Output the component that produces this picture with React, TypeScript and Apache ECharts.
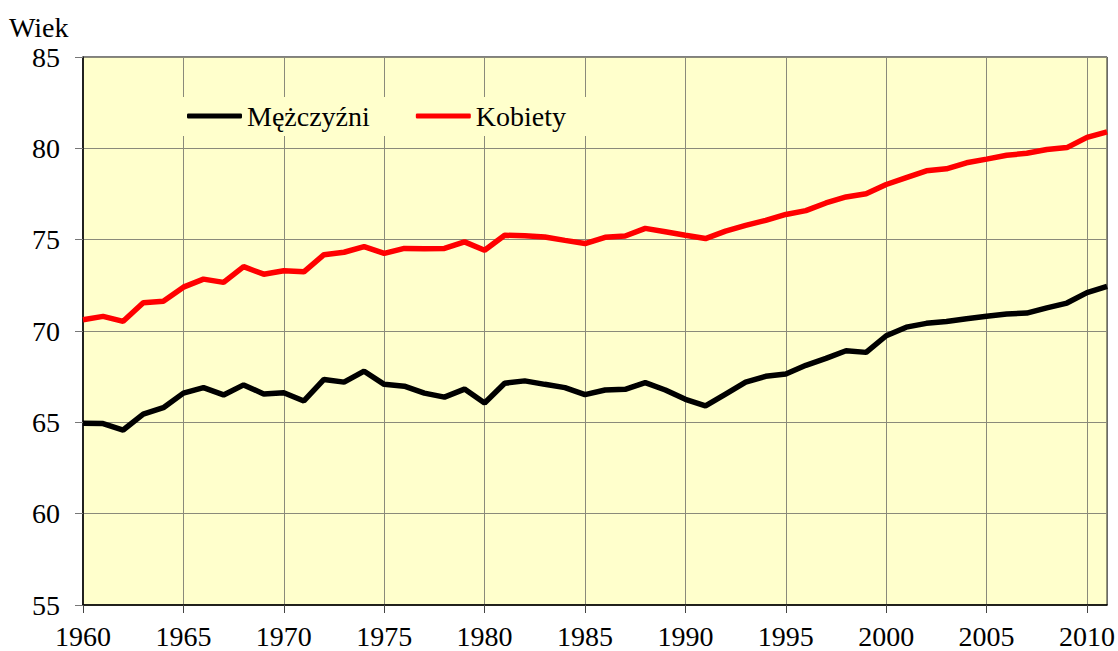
import React, { useEffect, useRef } from "react";
import * as echarts from "echarts";

const years: number[] = [];
for (let y = 1960; y <= 2011; y++) years.push(y);

const men = [
  64.95, 64.93, 64.58, 65.45, 65.8, 66.6, 66.9, 66.5, 67.05, 66.55,
  66.62, 66.17, 67.35, 67.2, 67.8, 67.08, 66.98, 66.6, 66.38, 66.82,
  66.06, 67.14, 67.27, 67.08, 66.9, 66.52, 66.77, 66.81, 67.17, 66.77,
  66.26, 65.9, 66.55, 67.2, 67.52, 67.65, 68.12, 68.5, 68.92, 68.83,
  69.74, 70.21, 70.42, 70.52, 70.67, 70.81, 70.93, 70.98, 71.27, 71.53,
  72.1, 72.44,
];

const women = [
  70.62, 70.8, 70.53, 71.55, 71.63, 72.4, 72.84, 72.66, 73.52, 73.11,
  73.3, 73.24, 74.18, 74.31, 74.62, 74.25, 74.52, 74.5, 74.52, 74.88,
  74.42, 75.24, 75.21, 75.15, 74.96, 74.79, 75.13, 75.2, 75.62, 75.43,
  75.24, 75.06, 75.47, 75.78, 76.06, 76.38, 76.59, 77.01, 77.34, 77.51,
  78.02, 78.4, 78.77, 78.88, 79.21, 79.41, 79.62, 79.73, 79.94, 80.04,
  80.6, 80.9,
];

const xTicks = [1960, 1965, 1970, 1975, 1980, 1985, 1990, 1995, 2000, 2005, 2010];
const seriesNames = ["Mężczyźni", "Kobiety"];
const yAxisName = "Wiek";

const FONT = "'Liberation Serif', 'Times New Roman', serif";
const FS = 28;

export default function App() {
  const ref = useRef<HTMLDivElement>(null);
  useEffect(() => {
    if (!ref.current) return;
    const chart = echarts.init(ref.current, undefined, { renderer: "svg" });
    chart.setOption({
      animation: false,
      title: {
        text: yAxisName,
        left: 9,
        top: 13,
        padding: 0,
        textStyle: { fontFamily: FONT, fontSize: FS, fontWeight: "normal", color: "#000" },
      },
      legend: {
        left: 181,
        top: 97,
        padding: [5, 30, 6, 6],
        itemWidth: 55,
        itemHeight: 5,
        itemGap: 46,
        icon: "roundRect",
        backgroundColor: "#FFFFCC",
        textStyle: { fontFamily: FONT, fontSize: FS, color: "#000" },
        data: seriesNames,
      },
      grid: {
        left: 83,
        top: 57,
        width: 1025,
        height: 548,
        show: true,
        backgroundColor: "#FFFFCC",
        borderColor: "#000",
        borderWidth: 1,
        containLabel: false,
      },
      xAxis: {
        type: "value",
        min: 1960,
        max: 2011,
        interval: 5,
        axisLine: { show: true, lineStyle: { color: "#000", width: 1.5 } },
        axisTick: {
          show: true,
          length: 8,
          customValues: xTicks,
          lineStyle: { color: "#444" },
        },
        axisLabel: {
          customValues: xTicks,
          margin: 17,
          fontFamily: FONT,
          fontSize: FS,
          color: "#000",
          formatter: (v: number) => String(v),
        },
        splitLine: { show: true, lineStyle: { color: "#8a8a7a", width: 1 } },
      },
      yAxis: {
        type: "value",
        min: 55,
        max: 85,
        interval: 5,
        axisLine: { show: true, lineStyle: { color: "#000", width: 1.5 } },
        axisTick: { show: true, length: 8, lineStyle: { color: "#777" } },
        axisLabel: {
          margin: 23,
          fontFamily: FONT,
          fontSize: FS,
          color: "#000",
        },
        splitLine: { show: true, lineStyle: { color: "#8a8a7a", width: 1 } },
      },
      series: [
        {
          name: seriesNames[0],
          type: "line",
          data: years.map((y, i) => [y, men[i]]),
          showSymbol: false,
          symbol: "none",
          lineStyle: { color: "#000", width: 5.5 },
          itemStyle: { color: "#000" },
        },
        {
          name: seriesNames[1],
          type: "line",
          data: years.map((y, i) => [y, women[i]]),
          showSymbol: false,
          symbol: "none",
          lineStyle: { color: "#FF0000", width: 5.5 },
          itemStyle: { color: "#FF0000" },
        },
      ],
    });
    return () => chart.dispose();
  }, []);
  return (
    <div
      ref={ref}
      style={{ position: "fixed", left: 0, top: 0, width: 1118, height: 651, background: "#fff" }}
    />
  );
}
